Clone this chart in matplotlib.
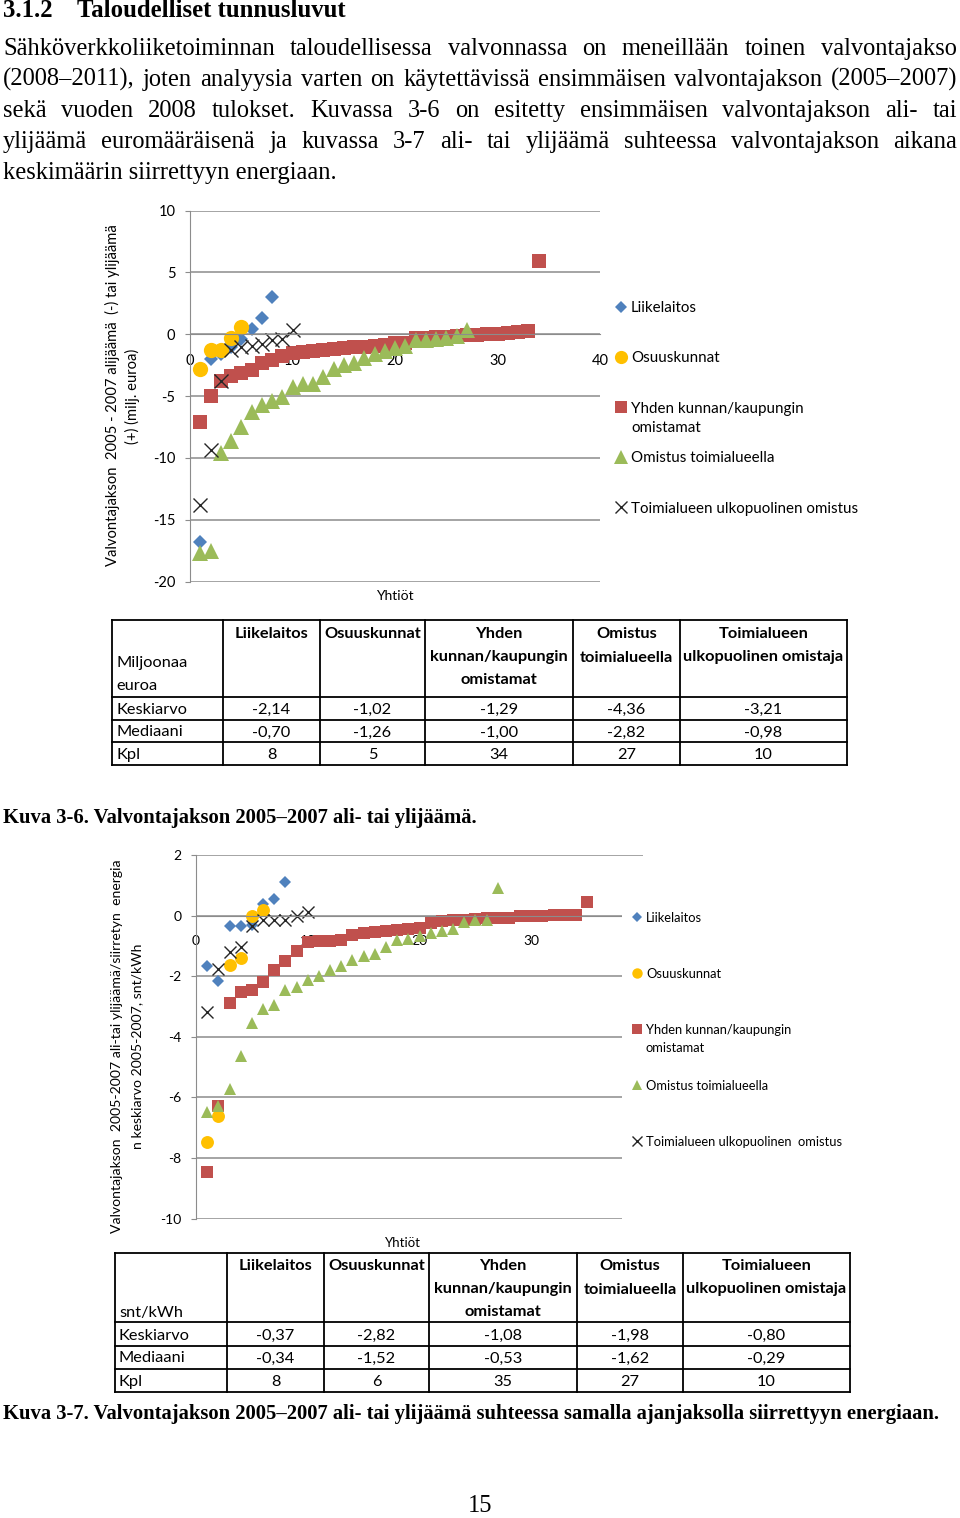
import numpy as np
import matplotlib
matplotlib.use('Agg')
import matplotlib.pyplot as plt
from matplotlib.patches import Rectangle

plt.rcParams['font.family'] = ['Lato', 'DejaVu Sans']
plt.rcParams['axes.unicode_minus'] = False

W, H = 960, 1518

# Kuva 3-6: ali-/ylijäämä, milj. euroa (yhtiöt järjestyksessä 1..n)
liike_eur = [-16.8, -2.0, -1.6, -1.0, -0.4, 0.4, 1.3, 3.0]
osuus_eur = [-2.8, -1.3, -1.26, -0.3, 0.56]
yhden_eur = [-7.1, -5.0, -3.8, -3.4, -3.1, -2.9, -2.3, -2.1, -1.8, -1.5,
             -1.45, -1.35, -1.25, -1.2, -1.1, -1.05, -1.02, -0.98, -0.9, -0.75,
             -0.7, -0.35, -0.3, -0.25, -0.2, -0.15, -0.1, -0.05, 0.0, 0.05,
             0.1, 0.15, 0.25, 5.9]
omistus_eur = [-17.7, -17.5, -9.6, -8.6, -7.5, -6.3, -5.7, -5.4, -5.1, -4.3,
               -4.0, -4.0, -3.5, -2.8, -2.5, -2.35, -1.9, -1.6, -1.4, -1.1,
               -0.95, -0.5, -0.5, -0.4, -0.3, -0.15, 0.35]
ulko_eur = [-13.8, -9.4, -3.8, -1.3, -1.0, -0.96, -0.8, -0.5, -0.4, 0.35]

# Kuva 3-7: ali-/ylijäämä / siirretty energia, snt/kWh
liike_kwh = [-1.67, -2.15, -0.35, -0.35, -0.32, 0.38, 0.56, 1.1]
osuus_kwh = [-7.46, -6.6, -1.62, -1.4, 0.0, 0.18]
yhden_kwh = [-8.45, -6.3, -2.9, -2.53, -2.46, -2.19, -1.78, -1.51, -1.18, -0.88,
             -0.85, -0.83, -0.79, -0.63, -0.59, -0.55, -0.5, -0.46, -0.43, -0.4,
             -0.23, -0.19, -0.15, -0.13, -0.1, -0.07, -0.07, -0.07, -0.03, 0.0,
             0.0, 0.03, 0.03, 0.03, 0.44]
omistus_kwh = [-6.48, -6.29, -5.74, -4.62, -3.54, -3.1, -2.94, -2.46, -2.37, -2.13,
               -2.0, -1.78, -1.67, -1.45, -1.34, -1.27, -1.03, -0.81, -0.77, -0.66,
               -0.59, -0.5, -0.43, -0.22, -0.15, -0.13, 0.91]
ulko_kwh = [-3.18, -1.75, -1.21, -1.03, -0.35, -0.15, -0.15, -0.13, 0.0, 0.12]

series_names = ['Liikelaitos', 'Osuuskunnat', 'Yhden kunnan/kaupungin\nomistamat',
                'Omistus toimialueella', 'Toimialueen ulkopuolinen omistus']
series_names2 = series_names[:4] + ['Toimialueen ulkopuolinen  omistus']
markers = ['D', 'o', 's', '^', 'x']
colors = ['#4F81BD', '#FFC000', '#C0504D', '#9BBB59', '#262626']
msize = [0.68, 1.0, 0.87, 1.0, 0.9]

# taulukot
table_cols = ['Liikelaitos', 'Osuuskunnat', 'Yhden\nkunnan/kaupungin\nomistamat',
              'Omistus\ntoimialueella', 'Toimialueen\nulkopuolinen omistaja']
table_rows = ['Keskiarvo', 'Mediaani', 'Kpl']
table1_vals = [['-2,14', '-1,02', '-1,29', '-4,36', '-3,21'],
               ['-0,70', '-1,26', '-1,00', '-2,82', '-0,98'],
               ['8', '5', '34', '27', '10']]
table2_vals = [['-0,37', '-2,82', '-1,08', '-1,98', '-0,80'],
               ['-0,34', '-1,52', '-0,53', '-1,62', '-0,29'],
               ['8', '6', '35', '27', '10']]

heading_num = '3.1.2'
heading = 'Taloudelliset tunnusluvut'
body = ['Sähköverkkoliiketoiminnan taloudellisessa valvonnassa on meneillään toinen valvontajakso',
        '(2008–2011), joten analyysia varten on käytettävissä ensimmäisen valvontajakson (2005–2007)',
        'sekä vuoden 2008 tulokset. Kuvassa 3-6 on esitetty ensimmäisen valvontajakson ali- tai',
        'ylijäämä euromääräisenä ja kuvassa 3-7 ali- tai ylijäämä suhteessa valvontajakson aikana',
        'keskimäärin siirrettyyn energiaan.']
caption1 = 'Kuva 3-6. Valvontajakson 2005–2007 ali- tai ylijäämä.'
caption2 = ('Kuva 3-7. Valvontajakson 2005–2007 ali- tai ylijäämä suhteessa samalla '
            'ajanjaksolla siirrettyyn energiaan.')

grey = '#8C8C8C'
serif = 'Liberation Serif'

fig = plt.figure(figsize=(W / 100, H / 100), dpi=100)


def px_axes(left, top, right, bottom):
    return fig.add_axes([left / W, 1 - bottom / H, (right - left) / W, (bottom - top) / H])


ax1 = px_axes(190, 210.5, 600, 581.5)
ax2 = px_axes(196, 855, 643, 1218.5)
page = fig.add_axes([0, 0, 1, 1], zorder=5)
page.set_xlim(0, W)
page.set_ylim(H, 0)
page.axis('off')

rend = fig.canvas.get_renderer()


def text_width(s, size, **kw):
    t = page.text(0, 0, s, fontsize=size, **kw)
    w = t.get_window_extent(renderer=rend).width
    t.remove()
    return w


def fit_size(s, width, **kw):
    return 20 * width / text_width(s, 20, **kw)


def style_axes(ax, ylim, ystep, fs, xpad):
    ax.set_xlim(0, 40)
    ax.set_ylim(*ylim)
    ax.set_yticks(np.arange(ylim[0], ylim[1] + ystep / 2, ystep))
    ax.set_xticks([0, 10, 20, 30, 40])
    ax.spines['top'].set_visible(False)
    ax.spines['right'].set_visible(False)
    ax.spines['bottom'].set_position(('data', 0))
    ax.spines['left'].set_color(grey)
    ax.spines['bottom'].set_color(grey)
    ax.grid(axis='y', color=grey, lw=1.1)
    ax.set_axisbelow(True)
    ax.tick_params(axis='x', length=0, pad=xpad, labelsize=fs)
    ax.tick_params(axis='y', length=3.6, color=grey, pad=7, labelsize=fs)


def scatter_series(ax, data, ms):
    for vals, m, c, k in zip(data, markers, colors, msize):
        x = np.arange(1, len(vals) + 1)
        if m == 'x':
            ax.plot(x, vals, ls='none', marker=m, ms=ms * k, color=c, mew=1.0, clip_on=False)
        else:
            ax.plot(x, vals, ls='none', marker=m, ms=ms * k, color=c, mew=0, clip_on=False)


def draw_legend(names, xm, xt, ys, dy2, fs, ms):
    for name, m, c, k, y in zip(names, markers, colors, msize, ys):
        mew = 1.0 if m == 'x' else 0
        page.plot([xm], [y], marker=m, ms=ms * k, color=c, mew=mew)
        for j, line in enumerate(name.split('\n')):
            page.text(xt, y + j * dy2, line, fontsize=fs, va='center_baseline')


def draw_table(cols, rows, vals, corner, corner_ys, head_ys, data_ys, fs):
    for y in rows:
        page.plot([cols[0], cols[-1]], [y, y], color='black', lw=1.3, solid_capstyle='projecting')
    for x in cols:
        page.plot([x, x], [rows[0], rows[-1]], color='black', lw=1.3, solid_capstyle='projecting')
    for j, name in enumerate(table_cols):
        cx = (cols[j + 1] + cols[j + 2]) / 2
        for k, line in enumerate(name.split('\n')):
            page.text(cx, head_ys[k], line, ha='center', va='center_baseline',
                      fontsize=fs, weight='bold')
    for k, line in enumerate(corner):
        page.text(cols[0] + 4, corner_ys[k], line, va='center_baseline', fontsize=fs)
    for i, rname in enumerate(table_rows):
        page.text(cols[0] + 4, data_ys[i], rname, va='center_baseline', fontsize=fs)
        for j, v in enumerate(vals[i]):
            cx = (cols[j + 1] + cols[j + 2]) / 2
            page.text(cx, data_ys[i], v, ha='center', va='center_baseline', fontsize=fs)


# --- kuva 3-6
style_axes(ax1, (-20, 10), 5, 10.5, 14.5)
scatter_series(ax1, [liike_eur, osuus_eur, yhden_eur, omistus_eur, ulko_eur], 11)

# --- kuva 3-7
style_axes(ax2, (-10, 2), 2, 10, 14)
scatter_series(ax2, [liike_kwh, osuus_kwh, yhden_kwh, omistus_kwh, ulko_kwh], 9.3)
# legend area covers the gridline ends and the "40" label
page.add_patch(Rectangle((622, 900), 120, 330, fc='white', ec='none', zorder=0))

# --- otsikko ja leipäteksti
hsize = fit_size(heading, 268, family=serif, weight='bold')
page.text(3, 17, heading_num, family=serif, weight='bold', fontsize=hsize, va='baseline')
page.text(77, 17, heading, family=serif, weight='bold', fontsize=hsize, va='baseline')

bsize = fit_size(body[-1], 335, family=serif)
left, right = 3, 957
for i, line in enumerate(body):
    yb = 55 + 31 * i
    words = line.split(' ')
    if i == len(body) - 1:
        page.text(left, yb, line, family=serif, fontsize=bsize, va='baseline')
        continue
    widths = [text_width(w, bsize, family=serif) for w in words]
    gap = (right - left - sum(widths)) / (len(words) - 1)
    x = left
    for w, wd in zip(words, widths):
        page.text(x, yb, w, family=serif, fontsize=bsize, va='baseline')
        x += wd + gap

# --- akselien tekstit
ylab1 = ['Valvontajakson  2005 - 2007 alijäämä  (-) tai ylijäämä', '(+) (milj. euroa)']
ys1 = fit_size(ylab1[0], 341)
page.text(112, 395, ylab1[0], rotation=90, ha='center', va='center', fontsize=ys1)
page.text(132, 396, ylab1[1], rotation=90, ha='center', va='center', fontsize=ys1)
page.text(395, 595, 'Yhtiöt', ha='center', va='center_baseline', fontsize=10)

ylab2 = ['Valvontajakson  2005-2007 ali-tai ylijäämä/siirretyn  energia',
         'n keskiarvo 2005-2007, snt/kWh']
ys2 = fit_size(ylab2[0], 372)
page.text(117, 1046, ylab2[0], rotation=90, ha='center', va='center', fontsize=ys2)
page.text(137, 1046, ylab2[1], rotation=90, ha='center', va='center', fontsize=ys2)
page.text(403, 1242, 'Yhtiöt', ha='center', va='center_baseline', fontsize=9.5)

# --- selitteet
lf1 = fit_size(series_names[4], 228)
draw_legend(series_names, 621, 631, [307, 357, 407, 457, 507], 20, lf1, 9.5)
lf2 = fit_size(series_names2[4], 196)
draw_legend(series_names2, 637, 646, [917, 973, 1029, 1085, 1141], 18, lf2, 7.5)

# --- taulukot
tfs = fit_size('ulkopuolinen omistaja', 160, weight='bold')
draw_table([112, 223, 320, 425, 573, 680, 847], [620, 697, 720, 742, 765], table1_vals,
           ['Miljoonaa', 'euroa'], [662, 685], [633, 656, 679], [708.5, 731, 753.5], tfs)
draw_table([115, 227, 324, 429, 577, 683, 850], [1253, 1322, 1346, 1369, 1392], table2_vals,
           ['snt/kWh'], [1311], [1265, 1288, 1311], [1334, 1357, 1380.5], tfs)

# --- kuvatekstit ja sivunumero
c1 = fit_size(caption1, 474, family=serif, weight='bold')
page.text(3, 823, caption1, family=serif, weight='bold', fontsize=c1, va='baseline')
c2 = fit_size(caption2, 935, family=serif, weight='bold')
page.text(3, 1419, caption2, family=serif, weight='bold', fontsize=c2, va='baseline')
page.text(480, 1512, '15', family=serif, fontsize=bsize, ha='center', va='baseline')

fig.savefig('out.png', dpi=100)
